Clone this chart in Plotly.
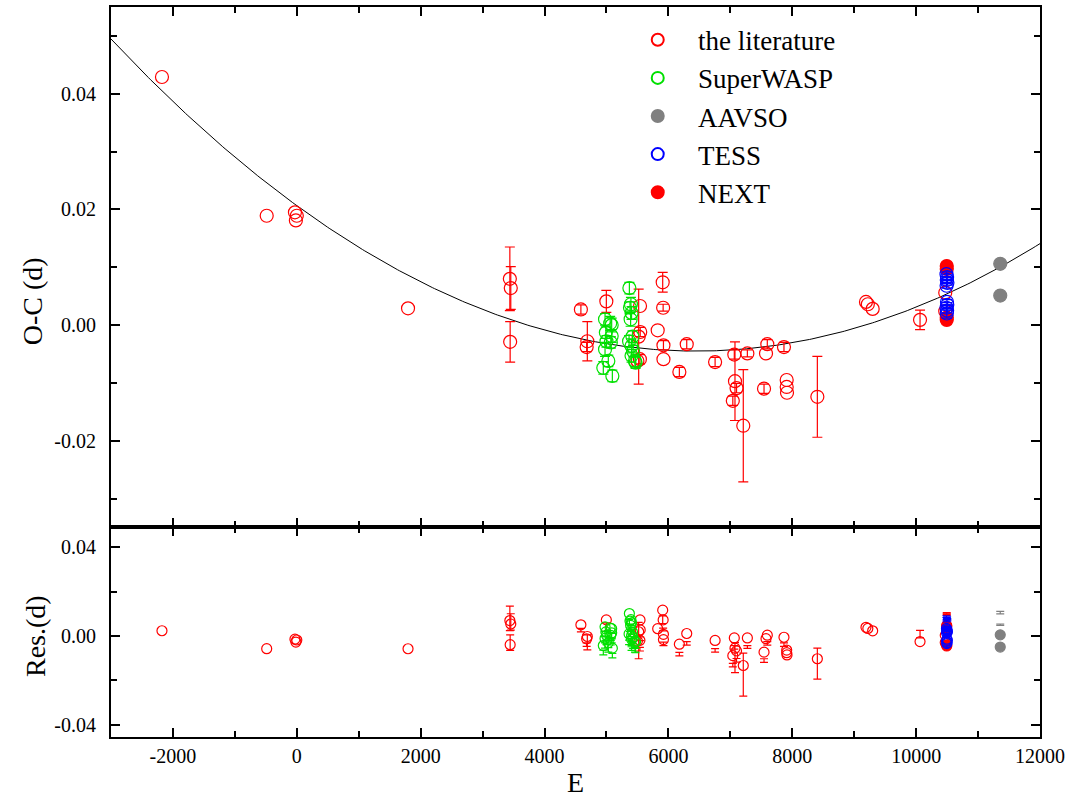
import numpy as np
import plotly.graph_objects as go

# ---------------- data ----------------
# the literature: epoch, O-C (d), error (None = no bar)
lit_E = [-2177, -486, -30, 0, -15, 1796, 3440, 3455, 3445, 4587, 4691, 4680, 4998,
         5542, 5545, 5520, 5540, 5500, 5827, 5908, 5915, 5920, 5920, 6177, 6296, 6754,
         7064, 7075, 7100, 7040, 7209, 7275, 7597, 7576, 7544, 7866, 7910, 7910, 7915,
         8405, 9190, 9220, 9298, 10063, 10470, 10470]
lit_OC = [0.0429, 0.0189, 0.0195, 0.0189, 0.0181, 0.0029, 0.0080, 0.0064, -0.0029, 0.0027,
          -0.0028, -0.0038, 0.0041, 0.0033, -0.0012, -0.0020, -0.0059, -0.0062, -0.0009,
          0.0074, 0.0030, -0.0035, -0.0059, -0.0081, -0.0033, -0.0064, -0.0051, -0.0097,
          -0.0109, -0.0131, -0.0174, -0.0049, -0.0033, -0.0049, -0.0110, -0.0038, -0.0095,
          -0.0107, -0.0117, -0.0124, 0.0040, 0.0036, 0.0028, 0.0009, 0.0056, 0.0024]
lit_err = [None, None, None, None, None, None, 0.0055, 0.0037, 0.0035, 0.0008,
           0.0034, 0.0008, 0.0019, None, 0.0008, 0.0082, 0.0008, None, None,
           0.0017, 0.0006, 0.0008, None, 0.0008, 0.0008, 0.0008, 0.0008, 0.0068,
           0.0008, 0.0008, 0.0097, 0.0006, 0.0008, None, 0.0008, 0.0008, None,
           None, None, 0.0070, None, None, None, 0.0017, None, None]

swasp_E = [4977, 5084, 4990, 5084, 5000, 4977, 5030, 4949, 5095, 5070, 5060,
           5370, 5395, 5380, 5405, 5365, 5405, 5430, 5405, 5460, 5470, 5390, 5420]
swasp_OC = [0.0010, 0.0000, -0.0013, -0.0019, -0.0028, -0.0042, -0.0062, -0.0074, -0.0088,
            -0.0030, 0.0003, 0.0064, 0.0036, 0.0030, 0.0021, -0.0028, -0.0036, -0.0045,
            -0.0053, -0.0062, -0.0065, 0.0010, -0.0020]
swasp_err = [0.0010, 0.0012, 0.0010, 0.0011, 0.0010, 0.0012, 0.0010, 0.0011, 0.0010,
             0.0010, 0.0012, 0.0010, 0.0012, 0.0010, 0.0011, 0.0010, 0.0012, 0.0010,
             0.0011, 0.0010, 0.0010, 0.0012, 0.0010]

aavso_E = [11358, 11358]
aavso_OC = [0.0106, 0.0051]
aavso_err = [0.0006, 0.0003]

tess_E = [10490, 10500, 10495, 10505, 10492, 10498, 10503, 10490, 10500, 10495]
tess_OC = [0.0088, 0.0083, 0.0078, 0.0073, 0.0068, 0.0040, 0.0035, 0.0030, 0.0025, 0.0020]
tess_err = [0.0004, 0.0004, 0.0004, 0.0004, 0.0004, 0.0004, 0.0004, 0.0004, 0.0004, 0.0008]

next_E = [10494, 10494, 10494, 10494]
next_OC = [0.0102, 0.0097, 0.0013, 0.0009]
next_err = [0.0004, 0.0004, 0.0004, 0.0004]

# quadratic ephemeris fit: O-C = c0 + c1*E + c2*E^2
FIT_C0 = 0.02065
FIT_C1 = -7.795e-6
FIT_C2 = 6.04e-10

x_ticks = [-2000, 0, 2000, 4000, 6000, 8000, 10000, 12000]
x_ticktext = ["-2000", "0", "2000", "4000", "6000", "8000", "10000", "12000"]
y1_ticks = [-0.02, 0.0, 0.02, 0.04]
y1_ticktext = ["-0.02", "0.00", "0.02", "0.04"]
y2_ticks = [-0.04, 0.0, 0.04]
y2_ticktext = ["-0.04", "0.00", "0.04"]


def fit(E):
    E = np.asarray(E, dtype=float)
    return FIT_C0 + FIT_C1 * E + FIT_C2 * E ** 2


def resid(E, OC):
    return list(np.asarray(OC) - fit(E))


FONT = "Liberation Serif"
NB = "\u00a0\u00a0\u00a0"
PAD = "\u00a0\u2009"

series = [
    # name, E, OC, err, color, symbol, legend rank
    ("the literature", lit_E, lit_OC, lit_err, "#ff0000", "circle-open", 1),
    ("SuperWASP", swasp_E, swasp_OC, swasp_err, "#00e000", "circle-open", 2),
    ("NEXT", next_E, next_OC, next_err, "#ff0000", "circle", 5),
    ("TESS", tess_E, tess_OC, tess_err, "#0000ff", "circle-open", 4),
    ("AAVSO", aavso_E, aavso_OC, aavso_err, "#808080", "circle", 3),
]

fig = go.Figure()

# fit curve
E_grid = np.linspace(-3000, 12000, 400)
fig.add_trace(go.Scatter(x=E_grid, y=fit(E_grid), mode="lines",
                         line=dict(color="black", width=1), showlegend=False,
                         hoverinfo="skip", xaxis="x", yaxis="y"))

for name, E, OC, err, color, symbol, rank in series:
    idx = [i for i, e in enumerate(err) if e is not None]
    eE = [E[i] for i in idx]
    eOC = [OC[i] for i in idx]
    eErr = [err[i] for i in idx]
    # top panel error bars
    fig.add_trace(go.Scatter(
        x=eE, y=eOC, mode="markers", showlegend=False, legendgroup=name,
        marker=dict(size=1, color="rgba(0,0,0,0)"),
        error_y=dict(type="data", array=eErr, visible=True, color=color,
                     thickness=1.2, width=5),
        hoverinfo="skip", xaxis="x", yaxis="y"))
    # top panel markers
    fig.add_trace(go.Scatter(
        x=E, y=OC, mode="markers", name=NB + name, legendrank=rank,
        legendgroup=name,
        marker=dict(symbol=symbol, size=13, color=color,
                    line=dict(color=color, width=1.2)),
        xaxis="x", yaxis="y"))
    # bottom panel: error bars drawn at the O-C values (as in the reference)
    fig.add_trace(go.Scatter(
        x=eE, y=eOC, mode="markers", showlegend=False, legendgroup=name,
        marker=dict(size=1, color="rgba(0,0,0,0)"),
        error_y=dict(type="data", array=eErr, visible=True, color=color,
                     thickness=1.2, width=4),
        hoverinfo="skip", xaxis="x2", yaxis="y2"))
    # bottom panel: markers at residuals
    fig.add_trace(go.Scatter(
        x=E, y=resid(E, OC), mode="markers", showlegend=False, legendgroup=name,
        marker=dict(symbol=symbol, size=10, color=color,
                    line=dict(color=color, width=1.2)),
        xaxis="x2", yaxis="y2"))

axis_common = dict(showline=True, linecolor="black", linewidth=2, mirror="ticks",
                   ticks="inside", ticklen=9, tickwidth=2, tickcolor="black",
                   showgrid=False, zeroline=False,
                   tickfont=dict(family=FONT, size=20, color="black"))

fig.update_layout(
    width=1075, height=800,
    margin=dict(l=111, r=35, t=5, b=63),
    paper_bgcolor="white", plot_bgcolor="white",
    font=dict(family=FONT, color="black"),
    xaxis=dict(domain=[0, 1], range=[-3000, 12000], anchor="y",
               tickvals=x_ticks, showticklabels=False,
               minor=dict(dtick=1000, ticks="inside", ticklen=6, tickwidth=1.5,
                          tickcolor="black"),
               **axis_common),
    yaxis=dict(domain=[0.287, 1], range=[-0.035, 0.055], anchor="x",
               tickvals=y1_ticks, ticktext=[t + PAD for t in y1_ticktext],
               minor=dict(tickvals=[-0.03, -0.01, 0.01, 0.03, 0.05], ticks="inside",
                          ticklen=6, tickwidth=1.5, tickcolor="black"),
               **axis_common),
    xaxis2=dict(domain=[0, 1], range=[-3000, 12000], anchor="y2",
                tickvals=x_ticks, ticktext=x_ticktext,
                minor=dict(dtick=1000, ticks="inside", ticklen=6, tickwidth=1.5,
                           tickcolor="black"),
                **axis_common),
    yaxis2=dict(domain=[0, 0.287], range=[-0.0455, 0.049], anchor="x2",
                tickvals=y2_ticks, ticktext=[t + PAD for t in y2_ticktext],
                minor=dict(tickvals=[-0.02, 0.02], ticks="inside",
                           ticklen=6, tickwidth=1.5, tickcolor="black"),
                **axis_common),
    legend=dict(x=0.567, y=0.988, xanchor="left", yanchor="top",
                bgcolor="rgba(0,0,0,0)", borderwidth=0,
                font=dict(family=FONT, size=27, color="black"),
                tracegroupgap=0, itemsizing="constant"),
    showlegend=True,
    annotations=[
        dict(text="O-C (d)", xref="paper", yref="paper", x=-0.085, y=0.597,
             textangle=-90, showarrow=False, xanchor="center", yanchor="middle",
             font=dict(family=FONT, size=28, color="black")),
        dict(text="Res.(d)", xref="paper", yref="paper", x=-0.081, y=0.138,
             textangle=-90, showarrow=False, xanchor="center", yanchor="middle",
             font=dict(family=FONT, size=28, color="black")),
        dict(text="E", xref="paper", yref="paper", x=0.4995, y=-0.063,
             showarrow=False, xanchor="center", yanchor="middle",
             font=dict(family=FONT, size=28, color="black")),
    ],
)

fig.write_html("out.html")
